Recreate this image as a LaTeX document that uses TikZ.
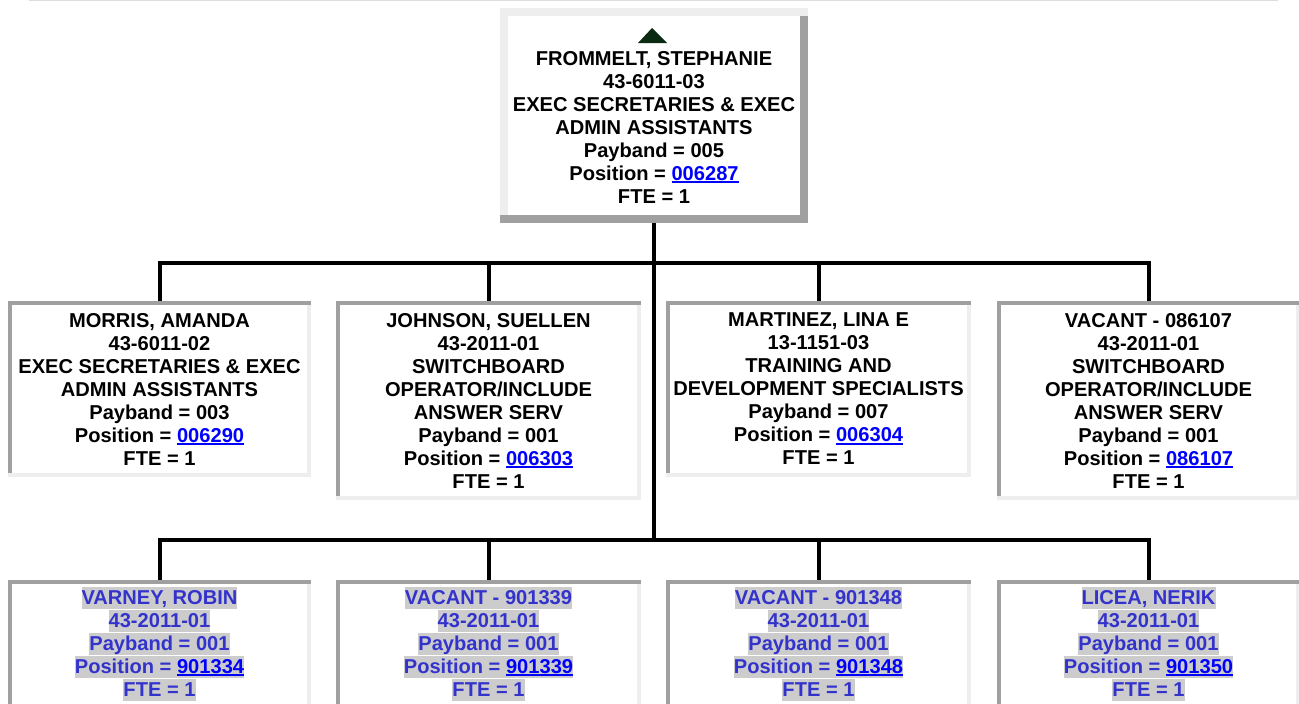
\documentclass[tikz,border=0pt]{standalone}
\usepackage{fontspec}
\setmainfont{Liberation Sans}
\usetikzlibrary{calc}
\definecolor{edgedark}{HTML}{A0A0A0}
\definecolor{edgelight}{HTML}{EEEEEE}
\definecolor{linkblue}{HTML}{0000FF}
\definecolor{subblue}{HTML}{3333CC}
\definecolor{hlgrey}{HTML}{CCCCCC}
\definecolor{markgreen}{HTML}{0B2A12}
\definecolor{pagerule}{HTML}{DDDDDD}
\newsavebox{\linkbox}
\newcommand{\poslink}[1]{\sbox{\linkbox}{\color{linkblue}#1}{\color{linkblue}\rlap{\rule[-2.6pt]{\wd\linkbox}{1.8pt}}}\usebox{\linkbox}}
\newcommand{\hlline}[1]{{\setlength{\fboxsep}{0pt}\colorbox{hlgrey}{\rule[-5pt]{0pt}{22.9pt}#1}}}
% frame of a box: top/left in #3, bottom/right in #4, #2 thick
\newcommand{\boxedge}[4]{%
  \fill[#3] (#1.north west) rectangle ($(#1.north east)+(0,#2)$);
  \fill[#4] (#1.south west) rectangle ($(#1.south east)+(0,-#2)$);
  \fill[#3] ($(#1.north west)+(0,#2)$) rectangle ($(#1.south west)+(#2,-#2)$);
  \fill[#4] ($(#1.north east)+(0,#2)$) rectangle ($(#1.south east)+(-#2,-#2)$);
}
\tikzset{
  orgbox/.style={fill=white, inner sep=0pt, outer sep=0pt, align=center,
    font=\bfseries\fontsize{20.1}{23}\selectfont},
  staffbox/.style={orgbox, minimum height=176pt},
  longbox/.style={orgbox, minimum height=199pt},
  subbox/.style={orgbox, minimum height=128pt, text=subblue},
  orgline/.style={line width=4pt}
}
\begin{document}
\begin{tikzpicture}[x=1pt, y=-1pt]
\useasboundingbox (0,0) rectangle (1299,704);
\clip (0,0) rectangle (1299,704);
\draw[pagerule, line width=1pt] (29,0.5) -- (1278,0.5);
% head of the unit
\node[orgbox, minimum width=308pt, minimum height=215pt] (frommelt) at (654,115.5) {\rule{0pt}{14pt}\\FROMMELT, STEPHANIE\\43-6011-03\\EXEC SECRETARIES \& EXEC\\ADMIN ASSISTANTS\\Payband = 005\\Position = \poslink{006287}\\FTE = 1};
\boxedge{frommelt}{8}{edgelight}{edgedark}
\fill[markgreen] ($(frommelt.north)+(-16,35)$) -- ($(frommelt.north)+(-2,20)$) -- ($(frommelt.north)+(13,35)$) -- cycle;
% first row
\node[staffbox, minimum width=303pt] (morris) at (159.5,389) {MORRIS, AMANDA\\43-6011-02\\EXEC SECRETARIES \& EXEC\\ADMIN ASSISTANTS\\Payband = 003\\Position = \poslink{006290}\\FTE = 1};
\node[longbox, minimum width=305pt] (johnson) at (488.5,400.5) {JOHNSON, SUELLEN\\43-2011-01\\SWITCHBOARD\\OPERATOR/INCLUDE\\ANSWER SERV\\Payband = 001\\Position = \poslink{006303}\\FTE = 1};
\node[staffbox, minimum width=305pt] (martinez) at (818.5,389) {MARTINEZ, LINA E\\13-1151-03\\TRAINING AND\\DEVELOPMENT SPECIALISTS\\Payband = 007\\Position = \poslink{006304}\\FTE = 1};
\node[longbox, minimum width=303pt] (vacantone) at (1148.5,400.5) {VACANT - 086107\\43-2011-01\\SWITCHBOARD\\OPERATOR/INCLUDE\\ANSWER SERV\\Payband = 001\\Position = \poslink{086107}\\FTE = 1};
% second row
\node[subbox, minimum width=303pt] (varney) at (159.5,644) {\hlline{VARNEY, ROBIN}\\\hlline{43-2011-01}\\\hlline{Payband = 001}\\\hlline{Position = \poslink{901334}}\\\hlline{FTE = 1}};
\node[subbox, minimum width=305pt] (vacanttwo) at (488.5,644) {\hlline{VACANT - 901339}\\\hlline{43-2011-01}\\\hlline{Payband = 001}\\\hlline{Position = \poslink{901339}}\\\hlline{FTE = 1}};
\node[subbox, minimum width=305pt] (vacantthree) at (818.5,644) {\hlline{VACANT - 901348}\\\hlline{43-2011-01}\\\hlline{Payband = 001}\\\hlline{Position = \poslink{901348}}\\\hlline{FTE = 1}};
\node[subbox, minimum width=303pt] (licea) at (1148.5,644) {\hlline{LICEA, NERIK}\\\hlline{43-2011-01}\\\hlline{Payband = 001}\\\hlline{Position = \poslink{901350}}\\\hlline{FTE = 1}};
\foreach \n in {morris,johnson,martinez,vacantone,varney,vacanttwo,vacantthree,licea}
  {\boxedge{\n}{4}{edgedark}{edgelight}}
% lines between the boxes
\coordinate (busone) at (654,263);
\coordinate (bustwo) at (654,540);
\draw[orgline] (frommelt.south) -- (bustwo);
\foreach \n in {morris,johnson,martinez,vacantone}
  \draw[orgline] (busone) -| (\n.north);
\foreach \n in {varney,vacanttwo,vacantthree,licea}
  \draw[orgline] (bustwo) -| (\n.north);
\end{tikzpicture}
\end{document}
